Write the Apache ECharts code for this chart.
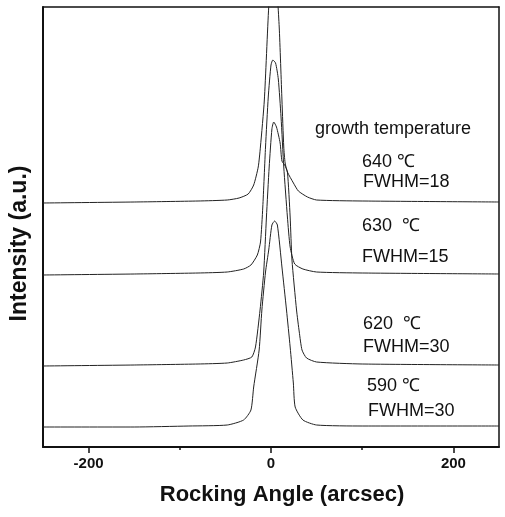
<!DOCTYPE html>
<html lang="en">
<head>
    <meta charset="utf-8">
    <title>Rocking curves</title>
    <script src="https://cdn.jsdelivr.net/npm/echarts@6/dist/echarts.min.js"></script>
    <style>
        html, body { margin: 0; padding: 0; background: #fff; }
        #chart { width: 505px; height: 517px; }
    </style>
</head>
<body>
<div id="chart"></div>
<script type="text/javascript">
    // rocking angle (arcsec) vs intensity (a.u., stacked with offsets)
    var curve590 = [[-250,20],[-150,20],[-90,21],[-48,22],[-30,27],[-22,37],[-19,60],[-13,97],[-10,137],[-6,175],
        [-2.5,197],[1,222],[4,226],[7,222],[12,180],[17,137],[21,100],[24.5,64],[26.5,40],[35,27],[50,22],[100,21],[250,21]];
    var curve620 = [[-250,81],[-150,82],[-80,83],[-48,84],[-30,87],[-21,90],[-17,100],[-12,137],[-8,175],[-5,230],
        [-2,280],[1,318],[3,325],[6,320],[10,304],[12,286],[15,282],[18,275],[21,230],[23,187],[28,137],[31,115],
        [34,97],[39,89],[50,85],[100,83],[250,82]];
    var curve630 = [[-250,172],[-150,173],[-80,174],[-48,175],[-30,178],[-22,182],[-15,192],[-11.5,205],[-9,240],
        [-6,300],[-3,350],[0,382],[2,387],[5,384],[8,368],[11,330],[14,280],[18,230],[21,200],[26,183],[35,178],
        [50,175],[100,174],[250,173]];
    var curve640 = [[-250,244],[-150,245],[-80,246],[-48,247],[-35,249],[-25,253],[-19,262],[-14,280],[-11.6,300],
        [-7.3,347],[-2.5,440],[1,480],[3,495],[5,480],[9,420],[12,347],[14,300],[15.5,284],[18,275],[24.6,264],
        [30,256],[40,250],[50,247],[100,246],[250,245]];
    var majorTicks = [-200, 0, 200];
    var minorTicks = [-100, 100];

    var font = 'Arial, "Liberation Sans", sans-serif';
    var ink = '#111';

    function curve(data) {
        return {
            type: 'line',
            data: data,
            showSymbol: false,
            smooth: 0.2,
            lineStyle: { color: '#222', width: 1 },
            clip: true,
            silent: true
        };
    }

    function note(text, x, y) {
        return {
            type: 'text', left: x, top: y - 10,
            style: { text: text, font: '18px ' + font, fill: ink }
        };
    }

    var chart = echarts.init(document.getElementById('chart'));
    chart.setOption({
        animation: false,
        grid: { left: 38, right: 6, top: 7, bottom: 70 },
        xAxis: [{
            type: 'value', min: -250, max: 250, position: 'bottom',
            name: 'Rocking Angle (arcsec)', nameLocation: 'middle', nameGap: 37,
            nameTextStyle: { fontFamily: font, fontWeight: 'bold', fontSize: 22, color: ink, padding: [0, 0, 0, 22] },
            axisLine: { onZero: false, lineStyle: { color: ink, width: 2 } },
            axisTick: { customValues: majorTicks, length: 6, lineStyle: { color: ink, width: 1.5 } },
            axisLabel: { customValues: majorTicks, margin: 9, fontFamily: font, fontWeight: 'bold', fontSize: 15, color: ink },
            splitLine: { show: false }
        }, {
            type: 'value', min: -250, max: 250, position: 'bottom',
            axisLine: { show: false, onZero: false },
            axisTick: { customValues: minorTicks, length: 3, lineStyle: { color: ink, width: 1.5 } },
            axisLabel: { show: false },
            splitLine: { show: false }
        }, {
            type: 'value', min: -250, max: 250, position: 'top',
            axisLine: { onZero: false, lineStyle: { color: ink, width: 1.5 } },
            axisTick: { show: false }, axisLabel: { show: false }, splitLine: { show: false }
        }],
        yAxis: [{
            type: 'value', min: 0, max: 440, position: 'left',
            name: 'Intensity (a.u.)', nameLocation: 'middle', nameGap: 12,
            nameTextStyle: { fontFamily: font, fontWeight: 'bold', fontSize: 23, color: ink, padding: [0, 33, 0, 0] },
            axisLine: { show: true, onZero: false, lineStyle: { color: ink, width: 2 } },
            axisTick: { show: false }, axisLabel: { show: false }, splitLine: { show: false }
        }, {
            type: 'value', min: 0, max: 440, position: 'right',
            axisLine: { show: true, onZero: false, lineStyle: { color: ink, width: 1.5 } },
            axisTick: { show: false }, axisLabel: { show: false }, splitLine: { show: false }
        }],
        series: [curve(curve590), curve(curve620), curve(curve630), curve(curve640)],
        graphic: [
            note('growth temperature', 315, 130),
            note('640 ℃', 362, 163),
            note('FWHM=18', 363, 183),
            note('630  ℃', 362, 227),
            note('FWHM=15', 362, 258),
            note('620  ℃', 363, 325),
            note('FWHM=30', 363, 348),
            note('590 ℃', 367, 387),
            note('FWHM=30', 368, 412)
        ]
    });
</script>
</body>
</html>
